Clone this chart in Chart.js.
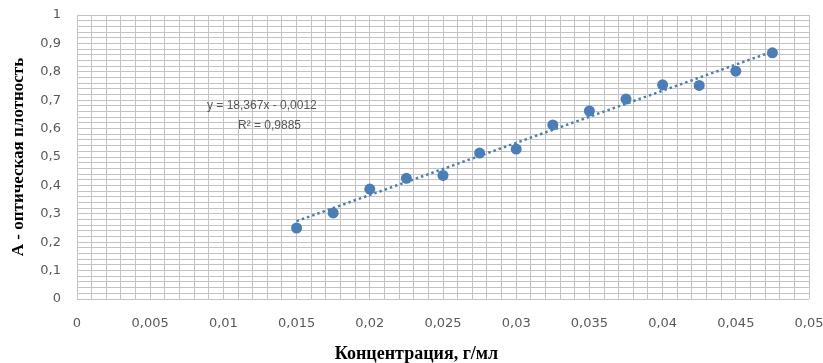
<!DOCTYPE html>
<html lang="ru">
<head>
<meta charset="utf-8">
<title>Калибровочный график</title>
<script src="https://cdn.jsdelivr.net/npm/chart.js@4.4.1/dist/chart.umd.min.js"></script>
<style>
  html, body { margin: 0; padding: 0; background: #ffffff; overflow: hidden; }
  #wrap { position: relative; width: 823px; height: 363px; }
</style>
</head>
<body>
<div id="wrap"><canvas id="chart" width="823" height="363"></canvas></div>
<script>
// Measured concentrations (g/ml) and optical densities
const concentration = [0.015, 0.0175, 0.02, 0.0225, 0.025, 0.0275, 0.03, 0.0325, 0.035, 0.0375, 0.04, 0.0425, 0.045, 0.0475];
const absorbance    = [0.25, 0.303, 0.387, 0.425, 0.435, 0.514, 0.528, 0.613, 0.662, 0.704, 0.754, 0.752, 0.802, 0.867];

// Linear trendline coefficients
const trendSlope = 18.367;
const trendIntercept = -0.0012;
const rSquared = 0.9885;

// Axis tick labels (major divisions)
const xTickValues = [0, 0.005, 0.01, 0.015, 0.02, 0.025, 0.03, 0.035, 0.04, 0.045, 0.05];
const xTickLabels = ['0', '0,005', '0,01', '0,015', '0,02', '0,025', '0,03', '0,035', '0,04', '0,045', '0,05'];
const yTickValues = [0, 0.1, 0.2, 0.3, 0.4, 0.5, 0.6, 0.7, 0.8, 0.9, 1];
const yTickLabels = ['0', '0,1', '0,2', '0,3', '0,4', '0,5', '0,6', '0,7', '0,8', '0,9', '1'];

const xTitle = 'Концентрация, г/мл';
const yTitle = 'А - оптическая плотность';

const fmt = v => String(v).replace('.', ',');
const equationText = 'y = ' + fmt(trendSlope) + 'x - ' + fmt(Math.abs(trendIntercept));
const r2Text = 'R² = ' + fmt(rSquared);

const pointData = concentration.map((x, i) => ({ x: x, y: absorbance[i] }));
const xFirst = concentration[0];
const xLast = concentration[concentration.length - 1];
const trendData = [xFirst, xLast].map(x => ({ x: x, y: trendSlope * x + trendIntercept }));

function majorLabel(value, values, labels) {
  for (let i = 0; i < values.length; i++) {
    if (Math.abs(value - values[i]) < 1e-9) return labels[i];
  }
  return '';
}

const BLUE = '#4a7ebb';
const GRID = '#c4c4c4';
const TICK_COLOR = '#595959';

// Extra text: x axis title and trendline equation
const textPlugin = {
  id: 'extraText',
  afterDraw(chart) {
    const ctx = chart.ctx;
    const area = chart.chartArea;
    ctx.save();
    ctx.fillStyle = '#000000';
    ctx.font = 'bold 18px "Liberation Serif"';
    ctx.textAlign = 'center';
    ctx.textBaseline = 'middle';
    ctx.fillText(xTitle, chart.width / 2 + 5, 354);

    ctx.fillStyle = TICK_COLOR;
    ctx.font = '12px "Liberation Sans"';
    ctx.textAlign = 'left';
    ctx.fillText(equationText, area.left + 130, area.top + 91);
    ctx.fillText(r2Text, area.left + 161, area.top + 111);
    ctx.restore();
  }
};

new Chart(document.getElementById('chart'), {
  type: 'scatter',
  data: {
    datasets: [
      {
        label: 'A',
        data: pointData,
        backgroundColor: BLUE,
        borderColor: BLUE,
        pointRadius: 5.5,
        pointHoverRadius: 5.5,
        pointBorderWidth: 0,
        order: 0
      },
      {
        label: 'Линейная',
        type: 'line',
        data: trendData,
        borderColor: BLUE,
        borderWidth: 2.5,
        borderDash: [2.5, 3],
        pointRadius: 0,
        fill: false,
        order: 1
      }
    ]
  },
  plugins: [textPlugin],
  options: {
    responsive: false,
    animation: false,
    events: [],
    layout: {
      autoPadding: false,
      padding: { left: 0, right: 14, top: 15, bottom: 0 }
    },
    plugins: {
      legend: { display: false },
      tooltip: { enabled: false },
      title: { display: false }
    },
    scales: {
      x: {
        type: 'linear',
        min: 0,
        max: 0.05,
        afterFit(scale) {
          scale.height = 64;
          scale.paddingLeft = 0;
          scale.paddingRight = 0;
        },
        grid: { color: GRID, lineWidth: 1, drawTicks: false },
        border: { display: false },
        ticks: {
          stepSize: 0.001,
          autoSkip: false,
          maxRotation: 0,
          minRotation: 0,
          padding: 17,
          color: TICK_COLOR,
          font: { family: 'DejaVu Sans', size: 13 },
          callback: v => majorLabel(v, xTickValues, xTickLabels)
        }
      },
      y: {
        type: 'linear',
        min: 0,
        max: 1,
        afterFit(scale) {
          scale.width = 77;
          scale.paddingTop = 0;
          scale.paddingBottom = 0;
        },
        grid: { color: GRID, lineWidth: 1, drawTicks: false },
        border: { display: false },
        title: {
          display: true,
          text: yTitle,
          color: '#000000',
          font: { family: 'Liberation Serif', size: 17, weight: 'bold' },
          padding: { top: 8, bottom: 0 }
        },
        ticks: {
          stepSize: 0.02,
          autoSkip: false,
          padding: 16,
          color: TICK_COLOR,
          font: { family: 'DejaVu Sans', size: 13 },
          callback: v => majorLabel(v, yTickValues, yTickLabels)
        }
      }
    }
  }
});
</script>
</body>
</html>
